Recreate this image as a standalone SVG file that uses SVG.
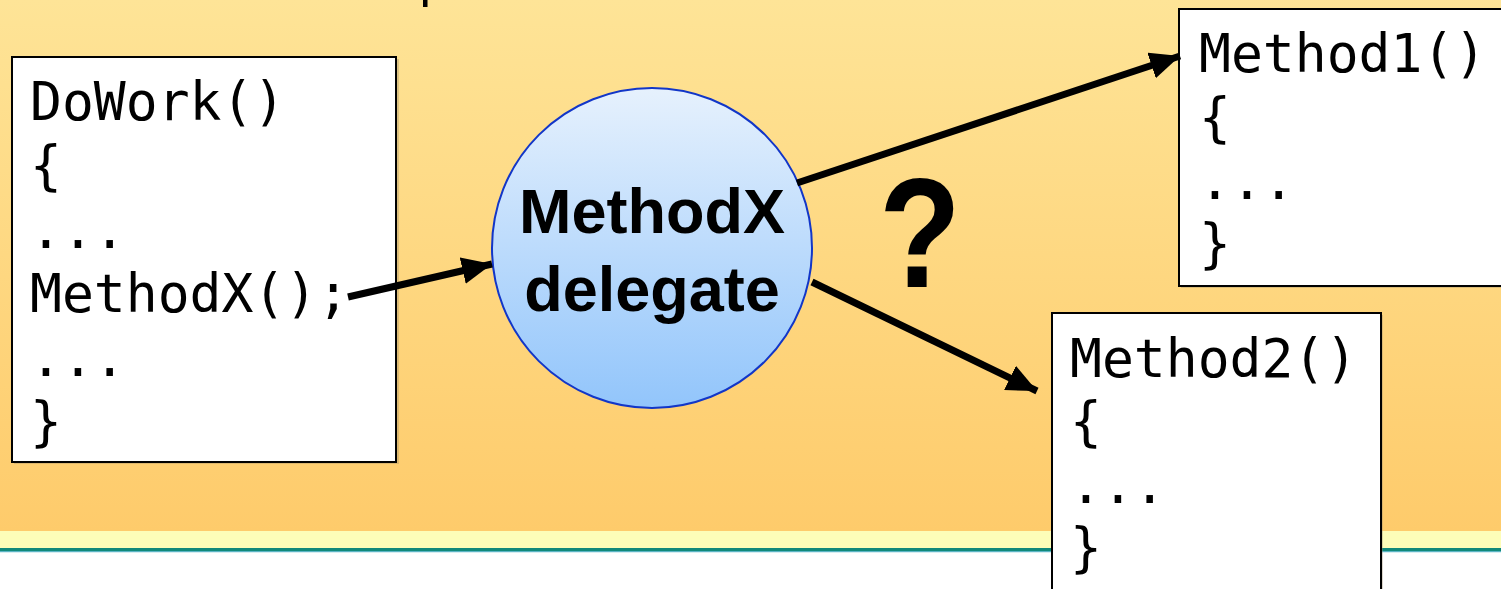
<svg xmlns="http://www.w3.org/2000/svg" width="1501" height="589" viewBox="0 0 1501 589">
  <defs>
    <linearGradient id="bg" x1="0" y1="0" x2="0" y2="1">
      <stop offset="0" stop-color="#fee497"/>
      <stop offset="1" stop-color="#fecb6b"/>
    </linearGradient>
    <linearGradient id="bubble" x1="0" y1="0" x2="0" y2="1">
      <stop offset="0" stop-color="#e6f1fd"/>
      <stop offset="1" stop-color="#92c5fb"/>
    </linearGradient>
    <marker id="head" viewBox="0 0 10 10" refX="10" refY="5" markerWidth="30" markerHeight="27" preserveAspectRatio="none" orient="auto" markerUnits="userSpaceOnUse">
      <path d="M0,0 L10,5 L0,10 Z" fill="#000"/>
    </marker>
  </defs>
  <style>
    .box { fill: #fff; stroke: #000; stroke-width: 2; }
    .shadow { fill: #9a8a6a; opacity: 0.35; }
    .code { font-family: "DejaVu Sans Mono", "Liberation Mono", monospace; font-size: 53px; fill: #000; }
    .bold { font-family: "Liberation Sans", Arial, sans-serif; font-weight: bold; fill: #000; }
    .arrow { stroke: #000; stroke-width: 7; fill: none; marker-end: url(#head); }
  </style>

  <!-- backdrop and footer stripes -->
  <rect x="0" y="0" width="1501" height="531" fill="url(#bg)"/>
  <rect x="0" y="531" width="1501" height="17" fill="#fdfdb8"/>
  <rect x="0" y="548" width="1501" height="3" fill="#11897a"/>
  <rect x="0" y="551" width="1501" height="1.5" fill="#5cb5c5"/>
  <rect x="0" y="552.5" width="1501" height="37" fill="#fff"/>
  <rect x="423" y="0" width="4.5" height="7" fill="#000"/>

  <!-- caller -->
  <g id="dowork">
    <rect class="shadow" x="14" y="59" width="385" height="405"/>
    <rect class="box" x="12" y="57" width="384" height="405"/>
    <text class="code" x="30" y="120">DoWork()</text>
    <text class="code" x="30" y="184">{</text>
    <text class="code" x="30" y="248">...</text>
    <text class="code" x="30" y="312">MethodX();</text>
    <text class="code" x="30" y="376">...</text>
    <text class="code" x="30" y="440">}</text>
  </g>

  <!-- delegate -->
  <g id="delegate">
    <circle cx="652" cy="248" r="160" fill="url(#bubble)" stroke="#1236c8" stroke-width="2"/>
    <text class="bold" x="652" y="233" font-size="63" text-anchor="middle">MethodX</text>
    <text class="bold" x="652" y="311" font-size="63" text-anchor="middle">delegate</text>
  </g>

  <!-- targets -->
  <g id="method1">
    <rect class="shadow" x="1181" y="11" width="330" height="277"/>
    <rect class="box" x="1179" y="9" width="330" height="277"/>
    <text class="code" x="1199" y="72">Method1()</text>
    <text class="code" x="1199" y="136">{</text>
    <text class="code" x="1199" y="199">...</text>
    <text class="code" x="1199" y="262">}</text>
  </g>

  <g id="method2">
    <rect class="shadow" x="1054" y="315" width="329" height="290"/>
    <rect class="box" x="1052" y="313" width="329" height="290"/>
    <text class="code" x="1070" y="377">Method2()</text>
    <text class="code" x="1070" y="440">{</text>
    <text class="code" x="1070" y="503">...</text>
    <text class="code" x="1070" y="566">}</text>
  </g>

  <g id="question">
    <text class="bold" transform="translate(920 287) scale(0.86 1)" x="0" y="0" font-size="156" text-anchor="middle">?</text>
  </g>

  <!-- connectors -->
  <g id="connectors">
    <line class="arrow" x1="348" y1="297" x2="492" y2="264"/>
    <line class="arrow" x1="797" y1="183" x2="1180" y2="56"/>
    <line class="arrow" x1="812" y1="282" x2="1037" y2="391"/>
  </g>
</svg>
